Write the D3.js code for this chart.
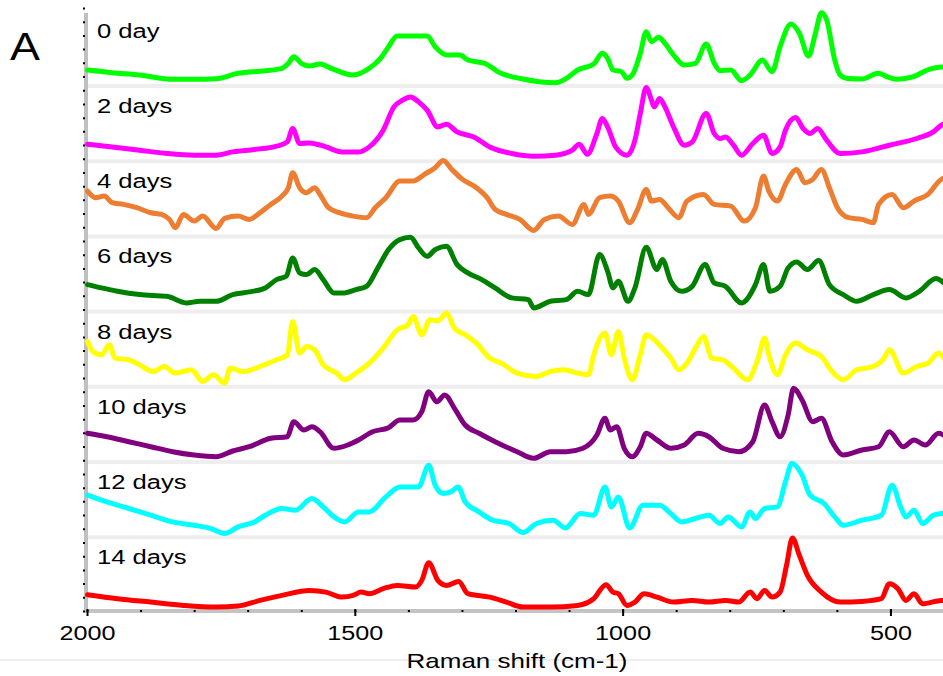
<!DOCTYPE html>
<html>
<head>
<meta charset="utf-8">
<script src="https://cdn.jsdelivr.net/npm/d3@7"></script>
<style>
  body { margin: 0; background: #fff; }
  svg text { font-family: "Liberation Sans", Arial, sans-serif; fill: #000; }
</style>
</head>
<body>
<svg id="chart" width="943" height="676"></svg>
<script>
// Raman spectra, [wavenumber cm-1, intensity (a.u., offset per panel)]
const dayLabels = ['0 day', '2 days', '4 days', '6 days', '8 days', '10 days', '12 days', '14 days'];

const day0 = [[1999,15],[1953,12.3],[1902,10],[1840,5.7],[1800,5.7],[1759,6.3],[1718,11.7],[1667,14.3],[1636,16.7],[1624,21.7],[1614,28.3],[1600,21.7],[1585,19],[1565,21],[1544,16.7],[1503,10],[1473,16.7],[1452,26.7],[1437,38.3],[1421,49],[1391,49],[1365,49],[1350,38.3],[1329,30],[1304,30],[1289,25],[1258,21.7],[1227,11.7],[1186,6],[1156,3.3],[1125,2.3],[1105,6.7],[1084,15],[1054,21],[1038,31.7],[1028,26.7],[1018,15],[1002,13.3],[992,6.7],[982,10],[967,31.7],[956,53.3],[946,43.3],[933,47.7],[921,41.7],[905,30],[885,20],[864,21.7],[844,41],[829,21.7],[818,14.3],[798,15],[778,4.3],[762,10],[739,25],[721,13.3],[706,38.3],[686,61],[670,51.7],[653,29],[640,51.7],[629,72.3],[619,65],[604,25],[594,10],[580,6.5],[553,6],[523,11.7],[505,8],[487,5.7],[457,8.3],[431,15],[403,18],[401,18]];

const day2 = [[1999,16],[1953,13.3],[1902,10],[1851,6.7],[1800,5],[1759,5],[1728,8.3],[1687,10.7],[1646,14],[1626,18.3],[1616,31.7],[1603,16.7],[1585,17.3],[1554,13.3],[1524,8.3],[1493,8.3],[1473,13.3],[1447,30],[1427,53.3],[1411,60],[1396,63.3],[1381,58.3],[1365,50],[1345,33.3],[1329,36],[1309,28.3],[1278,23.3],[1248,13.3],[1207,6.7],[1166,4],[1125,5],[1094,10],[1081,16],[1066,6],[1048,26.7],[1038,41.7],[1028,33.3],[1013,13.3],[992,5],[977,20],[967,46.7],[956,72.7],[946,60],[941,53.3],[931,61.7],[921,53.3],[905,33.3],[885,15],[870,18.3],[844,46.7],[829,26.7],[818,21.7],[808,23.3],[793,15],[778,5],[757,16.7],[737,25],[721,6.7],[706,13.3],[696,30],[677,42.7],[663,31.7],[650,26.7],[636,31.7],[619,20],[594,6.7],[553,8.3],[502,15],[451,21.7],[420,28.3],[405,35],[401,36]];

const day4 = [[1999,44.3],[1984,37.7],[1968,39.3],[1953,32.7],[1932,31],[1907,27.7],[1881,22.7],[1861,21],[1846,16],[1835,7.7],[1820,21],[1800,14.3],[1784,19.3],[1759,7],[1743,17],[1718,19.3],[1697,16],[1677,22.7],[1657,31],[1636,39.3],[1624,47.7],[1616,62.7],[1603,47.7],[1590,42.7],[1575,47.7],[1565,41],[1549,27.7],[1529,22.7],[1503,19.3],[1478,17.7],[1462,27.7],[1442,37.7],[1416,54.3],[1391,54.3],[1370,61],[1350,67.7],[1335,75],[1319,66],[1299,56],[1273,47.7],[1253,37.7],[1238,26],[1217,21],[1192,16],[1166,5],[1146,16],[1120,19.3],[1094,11],[1072,31],[1064,21],[1043,37.7],[1023,39.3],[1008,34.3],[987,12.7],[972,26],[956,46],[946,34.3],[931,36],[915,27.7],[895,17.7],[880,34.3],[849,41],[829,31],[798,29.3],[773,14.3],[752,27.7],[737,59.3],[727,44.3],[711,34.3],[696,51],[675,66],[660,52.7],[645,56],[629,66],[614,47.7],[599,27.7],[578,17.7],[553,16],[532,12.7],[522,31],[497,41],[476,27.7],[456,34.3],[430,41],[405,56],[401,57]];

const day6 = [[1999,26],[1973,22.7],[1943,19.3],[1902,16],[1851,14.3],[1815,7.7],[1789,9.3],[1759,9.3],[1728,16],[1697,18.7],[1667,22.7],[1646,31],[1628,34.3],[1616,52.7],[1603,37.7],[1590,36],[1575,41],[1559,31],[1539,17.7],[1519,17.7],[1498,21],[1478,24.3],[1457,42.7],[1437,61],[1416,71],[1396,73.3],[1381,62.7],[1365,54.3],[1350,61],[1329,64.3],[1309,46],[1289,37.7],[1263,31],[1238,22.7],[1207,12.7],[1176,11],[1166,2.7],[1135,9.3],[1105,11],[1084,19.3],[1064,16],[1043,56],[1028,39.3],[1018,22.7],[1008,29.3],[990,9.3],[977,22.7],[956,63.3],[936,41],[926,51],[910,29.3],[890,19.3],[870,24.3],[846,46],[829,27.7],[808,24.3],[778,7.7],[752,26],[737,46],[725,19.3],[706,24.3],[691,42.7],[675,48.7],[655,41],[634,50],[614,26],[588,16],[563,9.3],[532,16],[502,21],[471,12.7],[446,19.3],[415,32],[401,28]];

const day8 = [[1999,44.3],[1989,34.3],[1973,31],[1958,41],[1948,27.7],[1922,26],[1902,21],[1876,14.3],[1856,19.3],[1835,12.7],[1805,16],[1784,4.3],[1764,11],[1743,2.7],[1733,17.7],[1708,14.3],[1677,19.3],[1646,26],[1626,31],[1616,64.3],[1603,32.7],[1590,39.3],[1575,36],[1559,21],[1534,12.7],[1519,6],[1498,12.7],[1473,22.7],[1447,37.7],[1421,56],[1401,61],[1391,69.3],[1375,51],[1360,66],[1345,65],[1329,72.7],[1314,57.7],[1294,51],[1273,42.7],[1248,27.7],[1227,22.7],[1197,12.7],[1161,9.3],[1135,14.3],[1110,16],[1084,12.7],[1064,11],[1054,31],[1033,52.7],[1021,31],[1008,54.3],[997,27.7],[982,6],[967,31],[956,51],[941,46],[926,37.7],[910,27.7],[895,16],[880,22.7],[864,37.7],[849,49.3],[834,27.7],[813,26],[793,17.7],[767,6],[747,27.7],[735,47.7],[727,31],[711,11],[696,31],[677,42.7],[655,36],[629,29.3],[609,14.3],[588,6],[563,16],[532,19.3],[512,27.7],[502,36],[476,12.7],[451,19.3],[430,22.7],[410,32.7],[401,28]];

const day10 = [[1999,27.7],[1963,24.3],[1922,19.3],[1881,14.3],[1840,9.3],[1800,6],[1759,4.3],[1728,10],[1697,14.3],[1657,22.7],[1626,24.3],[1614,39.3],[1595,31],[1580,34.3],[1565,29.3],[1539,12.7],[1513,16],[1493,21],[1467,29.3],[1437,33.3],[1416,41],[1391,41],[1375,49.3],[1362,69.3],[1347,59.3],[1332,66],[1314,52.7],[1294,36],[1268,27.7],[1238,19.3],[1197,9.3],[1166,2.7],[1135,9.3],[1105,9.3],[1074,12.7],[1048,26],[1033,42.7],[1023,31],[1011,34.3],[997,12.7],[982,4.3],[967,14.3],[956,27.7],[936,21],[910,12.7],[885,16],[859,27.7],[839,24.3],[813,12.7],[783,9.3],[757,19.3],[735,56],[721,39.3],[706,24.3],[691,46],[681,72.7],[665,61],[645,39.3],[629,42.7],[609,19.3],[588,6],[553,11],[522,14.3],[502,29.3],[476,14.3],[456,21],[435,16],[410,27.7],[401,26]];

const day12 = [[1999,41],[1963,34.3],[1922,27.7],[1881,21],[1840,14.3],[1800,11],[1769,7.7],[1743,2.7],[1718,9.3],[1687,14.3],[1667,21],[1636,27.7],[1611,26],[1580,37.7],[1559,29.3],[1539,19.3],[1519,14.3],[1493,24.3],[1473,24.3],[1442,39.3],[1416,49.3],[1381,49.3],[1362,71],[1350,51],[1335,42.7],[1321,44.3],[1307,49.3],[1294,34.3],[1268,24.3],[1243,16],[1212,12.7],[1186,3.7],[1161,12.7],[1130,16],[1107,8.3],[1079,22.7],[1054,21],[1033,49.3],[1021,29.3],[1008,39.3],[987,8.3],[962,31],[946,31],[931,31],[910,22.7],[890,14.3],[864,17.7],[839,21],[818,12.7],[803,19.3],[778,9.3],[762,24.3],[752,17.7],[735,27.7],[711,29.3],[696,54.3],[684,72.7],[665,61],[650,41],[624,32.7],[604,19.3],[588,11],[553,16],[517,21],[497,51],[481,29.3],[471,19.3],[456,26],[440,12.7],[420,21],[405,22.7],[401,23]];

const day14 = [[1999,16.7],[1943,12.7],[1881,9.3],[1820,6],[1759,4.3],[1718,5.3],[1677,11],[1636,16],[1585,21],[1554,19.3],[1524,14.3],[1503,16],[1488,19.3],[1473,17.7],[1447,22.7],[1421,26],[1386,24.3],[1375,31],[1362,48.7],[1345,31],[1329,26],[1306,30],[1289,17.7],[1248,14.3],[1217,9.3],[1186,4.3],[1135,4.3],[1084,6],[1054,12.7],[1031,26.7],[1018,19.3],[1008,17.7],[992,6],[977,9.3],[960,17.7],[936,14.3],[905,9.3],[870,11],[839,9.3],[808,11],[783,9.3],[762,19.3],[749,12.7],[735,21],[721,14.3],[706,19.3],[694,46],[683,73.3],[670,56],[655,36],[629,19.3],[594,9.3],[553,10],[517,12.7],[502,27.7],[486,22.7],[471,11],[456,17.7],[440,7.7],[405,11],[401,11]];

const spectra = [day0, day2, day4, day6, day8, day10, day12, day14];
const lineColors = ['#00ff00', '#ff00ff', '#ed7d31', '#008000', '#ffff00', '#800080', '#00ffff', '#ff0000'];

const majorTicks = [2000, 1500, 1000, 500];
const minorTicks = d3.range(2000, 399, -100);

const svg = d3.select('svg#chart');

const plotLeft = 87, plotRight = 944,
    axisY = 611, panelH = 75.2, firstBottom = 85;

const x = d3.scaleLinear().domain([2000, 400]).range([plotLeft, plotRight]);
const panelBottom = i => firstBottom + panelH * i;

// faint rule under the tick labels
svg.append('line')
    .attr('x1', 0).attr('x2', 943)
    .attr('y1', 660).attr('y2', 660)
    .attr('stroke', '#eeeeee').attr('stroke-width', 2);

// panel separators
svg.selectAll('line.sep')
    .data(d3.range(spectra.length - 1))
    .join('line')
    .classed('sep', true)
    .attr('x1', plotLeft).attr('x2', 943)
    .attr('y1', i => panelBottom(i) + 1).attr('y2', i => panelBottom(i) + 1)
    .attr('stroke', '#eeeeee').attr('stroke-width', 4);

// left axis: gray rule with small dotted ticks
const yAll = d3.scaleLinear().domain([0, 44]).range([axisY, 8]);
const gy = svg.append('g')
    .attr('transform', `translate(${plotLeft - 1},0)`)
    .call(d3.axisLeft(yAll).ticks(44).tickSize(3).tickSizeOuter(0).tickFormat(''));
gy.select('.domain').attr('stroke', '#c0c0c0').attr('stroke-width', 4)
    .attr('d', `M0,13V${axisY}`);
gy.selectAll('.tick line').attr('stroke', '#000').attr('stroke-width', 2).attr('x1', -1).attr('x2', -3);

// bottom axis
const gx = svg.append('g').attr('transform', `translate(0,${axisY})`);
gx.call(d3.axisBottom(x).tickValues(minorTicks).tickSize(2).tickSizeOuter(0).tickFormat(''));
gx.select('.domain').attr('stroke', '#c4c4c4').attr('stroke-width', 4).attr('d', `M${plotLeft - 2},0H943`);
gx.selectAll('.tick line').attr('stroke', '#000').attr('stroke-width', 2).attr('y1', -1).attr('y2', 1);

const gxMajor = svg.append('g').attr('transform', `translate(0,${axisY})`);
gxMajor.call(d3.axisBottom(x).tickValues(majorTicks).tickSize(5).tickSizeOuter(0).tickFormat(d3.format('d')));
gxMajor.select('.domain').remove();
gxMajor.selectAll('.tick line').attr('stroke', '#000').attr('stroke-width', 2).attr('y1', -2).attr('y2', 5);
gxMajor.selectAll('.tick text')
    .attr('y', null).attr('dy', null)
    .attr('transform', 'translate(0,29) scale(1.2,1)')
    .attr('text-anchor', 'middle')
    .style('font-size', '21px')
    .style('font-family', '"Liberation Sans", Arial, sans-serif')
    .attr('fill', '#000');

// spectra
spectra.forEach((spec, i) => {
    const y = d3.scaleLinear().domain([0, 75]).range([panelBottom(i), panelBottom(i) - 75]);
    const line = d3.line()
        .curve(d3.curveMonotoneX)
        .x(d => x(d[0]))
        .y(d => y(d[1]));

    svg.append('path')
        .datum(spec)
        .attr('d', line)
        .attr('fill', 'none')
        .attr('stroke', lineColors[i])
        .attr('stroke-width', 5)
        .attr('stroke-linejoin', 'round')
        .attr('stroke-linecap', 'round');
});

// panel labels
svg.selectAll('text.day')
    .data(dayLabels)
    .join('text')
    .classed('day', true)
    .attr('transform', (d, i) => `translate(97,${panelBottom(i) - panelH + 28}) scale(1.28,1)`)
    .style('font-size', '20px')
    .text(d => d);

svg.append('text')
    .attr('transform', 'translate(10,60) scale(1.15,1)')
    .style('font-size', '39px')
    .text('A');

svg.append('text')
    .attr('transform', 'translate(517,668) scale(1.3,1)')
    .attr('text-anchor', 'middle')
    .style('font-size', '20px')
    .text('Raman shift (cm-1)');
</script>
</body>
</html>
